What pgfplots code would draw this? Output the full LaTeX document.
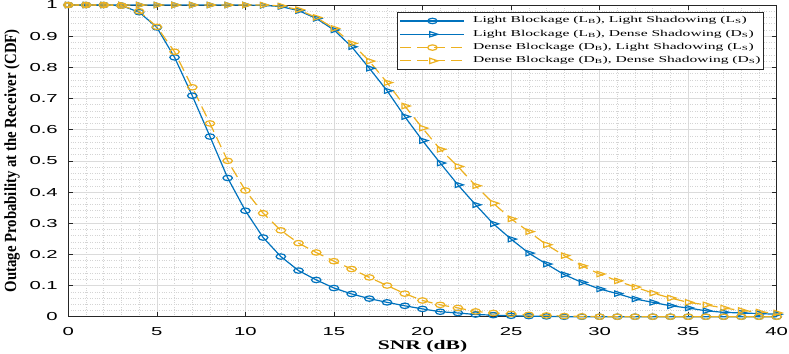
\documentclass[border=0pt]{standalone}
\usepackage{graphicx}
\usepackage{pgfplots}
\usepackage{pgfplotstable}
\pgfplotsset{compat=1.18}
\usepackage{fontspec}
\setmainfont{Liberation Serif}
\newfontfamily\ticksf{Liberation Sans}
\newfontfamily\legfont[FakeStretch=1.73]{Liberation Serif}
\newfontfamily\xlabfont[FakeStretch=1.65]{Liberation Serif}
\newfontfamily\ylabfont[FakeStretch=0.87]{Liberation Serif}
\definecolor{mblue}{rgb}{0,0.447,0.741}
\definecolor{myellow}{rgb}{0.929,0.694,0.125}

\pgfplotstableread{
x lbls lbds dbls dbds
0 1 1 1 1
1 1 1 1 1
2 1 1 1 1
3 0.998 1 0.998 1
4 0.977 1 0.98 1
5 0.928 1 0.93 1
6 0.832 1 0.85 1
7 0.709 1 0.736 1
8 0.578 1 0.62 1
9 0.445 1 0.50 1
10 0.34 1 0.405 1
11 0.254 0.999 0.332 1
12 0.193 0.995 0.277 0.997
13 0.148 0.982 0.236 0.985
14 0.118 0.957 0.206 0.96
15 0.092 0.92 0.178 0.925
16 0.073 0.866 0.153 0.877
17 0.058 0.797 0.126 0.82
18 0.046 0.725 0.10 0.751
19 0.035 0.642 0.074 0.676
20 0.025 0.565 0.052 0.605
21 0.016 0.493 0.038 0.537
22 0.012 0.423 0.028 0.482
23 0.007 0.359 0.017 0.42
24 0.005 0.298 0.012 0.364
25 0.003 0.249 0.009 0.314
26 0.002 0.204 0.006 0.273
27 0.001 0.169 0.004 0.231
28 0 0.135 0.002 0.196
29 0 0.11 0.001 0.163
30 0 0.089 0 0.137
31 0 0.074 0 0.115
32 0 0.057 0 0.095
33 0 0.046 0 0.076
34 0 0.035 0 0.06
35 0 0.028 0 0.046
36 0 0.019 0 0.038
37 0 0.014 0 0.028
38 0 0.012 0 0.02
39 0 0.01 0 0.015
40 0 0.008 0 0.012
}\datatable

\begin{document}
\begin{tikzpicture}
\begin{axis}[
  at={(0,0)}, anchor=south west,
  scale only axis, width=708.4bp, height=311.7bp,
  xmin=0, xmax=40, ymin=0, ymax=1,
  xtick={0,5,10,15,20,25,30,35,40},
  ytick={0,0.1,0.2,0.3,0.4,0.5,0.6,0.7,0.8,0.9,1},
  minor x tick num=4, minor y tick num=4,
  grid=both,
  major grid style={black!14, line width=0.5bp},
  minor grid style={black!17, dotted, line width=0.5bp},
  tick align=inside, major tick length=5bp, minor tick length=0pt,
  axis line style={black!85, line width=0.6bp},
  tick style={black!85, line width=0.6bp},
  clip=false,
  /pgf/number format/assume math mode=true,
  ticklabel style={font=\ticksf\fontsize{11.6bp}{12bp}\selectfont},
  xticklabel={\scalebox{1.75}[1]{\pgfmathprintnumber{\tick}}},
  yticklabel={\scalebox{1.75}[1]{\pgfmathprintnumber{\tick}}},
  xticklabel style={anchor=north, yshift=-7bp},
  yticklabel style={anchor=east, xshift=-7bp},
  xlabel={SNR (dB)},
  ylabel={Outage Probability at the Receiver (CDF)},
  xlabel style={font=\xlabfont\bfseries\fontsize{13.1bp}{14bp}\selectfont, at={(axis description cs:0.5,0)}, anchor=base, yshift=-32.6bp},
  ylabel style={font=\ylabfont\bfseries\fontsize{17bp}{18bp}\selectfont, at={(axis description cs:-0.0795,0.5)}, anchor=center},
  legend cell align=left,
  legend style={at={(axis description cs:0.982,0.9775)}, anchor=north east,
    draw=black!85, line width=0.6bp, fill=white,
    inner xsep=3bp, inner ysep=2bp, row sep=0pt, column sep=8bp,
    font=\legfont\fontsize{9bp}{10bp}\selectfont,
    nodes={inner sep=0pt, text height=8.6bp, text depth=4.7bp}},
  legend image code/.code={\draw[mark repeat=2,mark phase=2] plot coordinates {(0bp,0bp) (32bp,0bp) (64bp,0bp)};},
]
\addplot[mblue, line width=1.2bp, mark=o, mark size=2.7bp, mark options={solid, xscale=1.75}] table[x=x,y=lbls]{\datatable};
\addlegendentry{Light Blockage (L\textsubscript{B}), Light Shadowing (L\textsubscript{S})}
\addplot[mblue, line width=1.2bp, mark=triangle, mark size=3.1bp, mark options={solid, xscale=1.75, rotate=-90}] table[x=x,y=lbds]{\datatable};
\addlegendentry{Light Blockage (L\textsubscript{B}), Dense Shadowing (D\textsubscript{S})}
\addplot[myellow, line width=1.2bp, dash pattern=on 11bp off 6bp, mark=o, mark size=2.7bp, mark options={solid, xscale=1.75}] table[x=x,y=dbls]{\datatable};
\addlegendentry{Dense Blockage (D\textsubscript{B}), Light Shadowing (L\textsubscript{S})}
\addplot[myellow, line width=1.2bp, dash pattern=on 11bp off 6bp, mark=triangle, mark size=3.1bp, mark options={solid, xscale=1.75, rotate=-90}] table[x=x,y=dbds]{\datatable};
\addlegendentry{Dense Blockage (D\textsubscript{B}), Dense Shadowing (D\textsubscript{S})}
\end{axis}
\pgfresetboundingbox
\path[use as bounding box] (-68.3bp,-37.3bp) rectangle (720.7bp,316.7bp);
\end{tikzpicture}
\end{document}
